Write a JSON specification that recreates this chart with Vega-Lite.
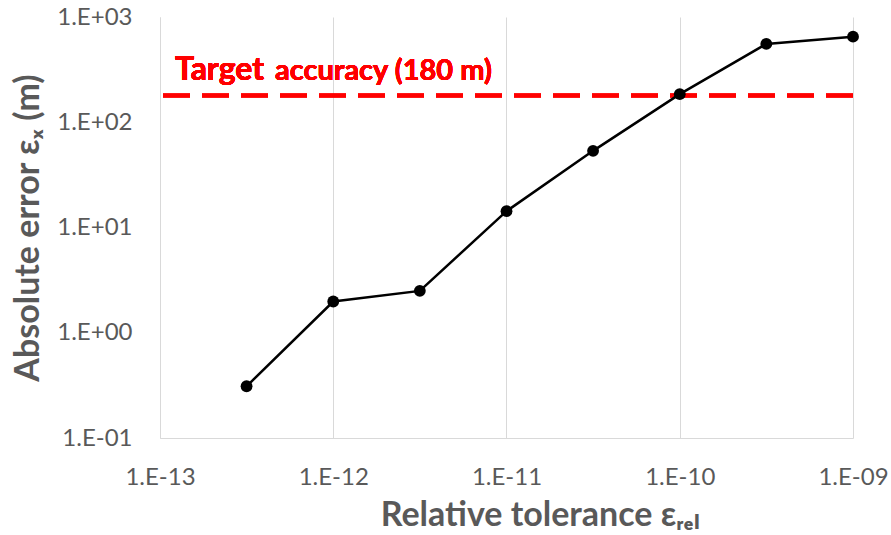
{
  "$schema": "https://vega.github.io/schema/vega-lite/v6.json",
  "width": 693,
  "height": 421,
  "autosize": {"type": "none"},
  "padding": {"left": 160, "top": 17, "right": 38, "bottom": 97},
  "background": "white",
  "config": {
    "font": "Lato, 'Open Sans', 'DejaVu Sans', sans-serif",
    "view": {"stroke": null},
    "axis": {
      "domainColor": "#d9d9d9",
      "gridColor": "#d9d9d9",
      "gridWidth": 1,
      "ticks": false,
      "labelFlush": false,
      "labelOverlap": false,
      "labelColor": "#595959",
      "labelFontSize": 24,
      "labelFont": "Lato, 'Open Sans', sans-serif",
      "titleColor": "#595959",
      "titleFontSize": 34,
      "titleFontWeight": "bold",
      "titleFont": "Lato, 'Open Sans', 'DejaVu Sans', sans-serif"
    }
  },
  "data": {
    "values": [
      {"tol": 3.16e-13, "err": 0.31},
      {"tol": 1e-12, "err": 1.98},
      {"tol": 3.16e-12, "err": 2.5},
      {"tol": 1e-11, "err": 14.3},
      {"tol": 3.16e-11, "err": 53.5},
      {"tol": 1e-10, "err": 185},
      {"tol": 3.16e-10, "err": 555},
      {"tol": 1e-9, "err": 650}
    ]
  },
  "layer": [
    {
      "mark": {"type": "rule", "color": "#ff0000", "strokeWidth": 3.5, "strokeDash": [27, 12]},
      "encoding": {"y": {"datum": 180, "type": "quantitative", "scale": {"type": "log", "domain": [0.1, 1000]}}}
    },
    {
      "mark": {"type": "line", "color": "black", "strokeWidth": 2.5},
      "encoding": {
        "x": {
          "field": "tol", "type": "quantitative",
          "scale": {"type": "log", "domain": [1e-13, 1e-9]},
          "axis": {
            "values": [1e-13, 1e-12, 1e-11, 1e-10, 1e-9],
            "labelPadding": 27,
            "labelExpr": "'1.E' + (round(log(datum.value)/LN10) >= 0 ? '+' : '-') + (abs(round(log(datum.value)/LN10)) < 10 ? '0' : '') + abs(round(log(datum.value)/LN10))",
            "title": "Relative tolerance εᵣₑₗ",
            "titleX": 380,
            "titleY": 87,
            "titleBaseline": "alphabetic"
          }
        },
        "y": {
          "field": "err", "type": "quantitative",
          "scale": {"type": "log", "domain": [0.1, 1000]},
          "axis": {
            "values": [0.1, 1, 10, 100, 1000],
            "labelPadding": 28,
            "labelExpr": "'1.E' + (round(log(datum.value)/LN10) >= 0 ? '+' : '-') + (abs(round(log(datum.value)/LN10)) < 10 ? '0' : '') + abs(round(log(datum.value)/LN10))",
            "title": "Absolute error εₓ (m)",
            "titleX": -122,
            "titleBaseline": "alphabetic"
          }
        }
      }
    },
    {
      "mark": {"type": "point", "filled": true, "color": "black", "size": 140, "opacity": 1},
      "encoding": {
        "x": {"field": "tol", "type": "quantitative"},
        "y": {"field": "err", "type": "quantitative"}
      }
    },
    {
      "mark": {"type": "text", "text": "Target", "color": "#ff0000", "fontSize": 32, "fontWeight": "bold", "align": "left", "baseline": "alphabetic", "dy": -15},
      "encoding": {
        "x": {"datum": 1.22e-13, "type": "quantitative"},
        "y": {"datum": 180, "type": "quantitative"}
      }
    },
    {
      "mark": {"type": "text", "text": "accuracy (180 m)", "color": "#ff0000", "fontSize": 29, "fontWeight": "bold", "align": "left", "baseline": "alphabetic", "dy": -15},
      "encoding": {
        "x": {"datum": 4.61e-13, "type": "quantitative"},
        "y": {"datum": 180, "type": "quantitative"}
      }
    }
  ]
}
